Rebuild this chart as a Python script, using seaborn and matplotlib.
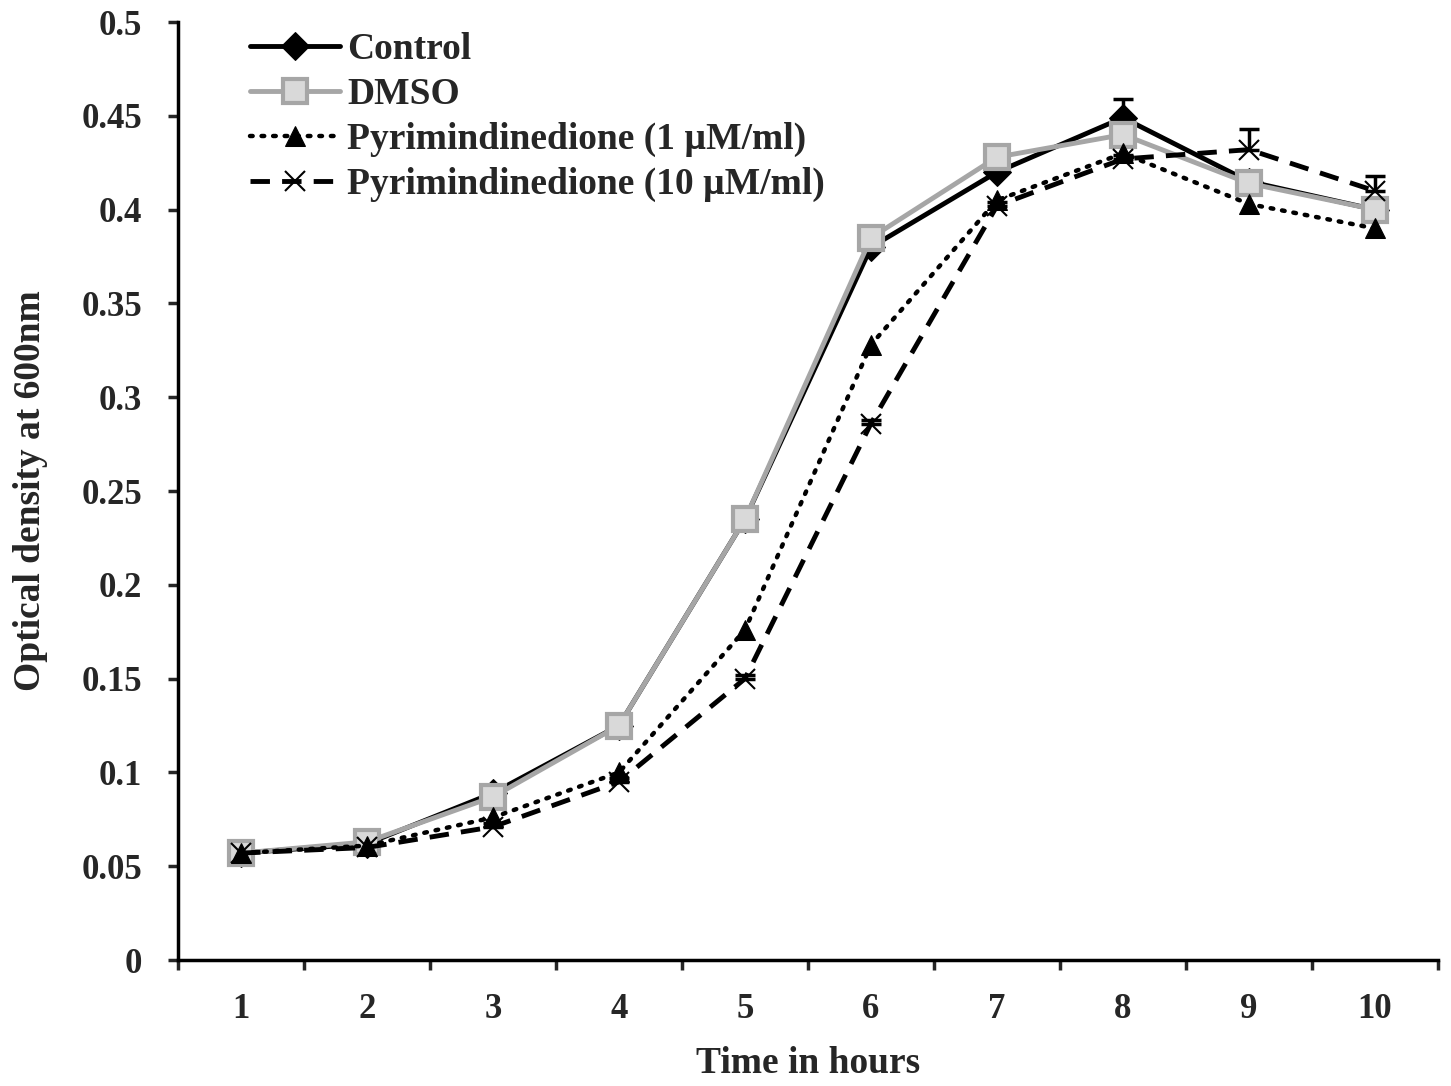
import matplotlib
matplotlib.use("Agg")
import matplotlib.pyplot as plt
import seaborn as sns
import pandas as pd
import numpy as np

# growth curve values
hours = [1, 2, 3, 4, 5, 6, 7, 8, 9, 10]
control = [0.057, 0.062, 0.089, 0.125, 0.235, 0.380, 0.420, 0.449, 0.415, 0.400]
dmso = [0.057, 0.063, 0.087, 0.125, 0.235, 0.385, 0.428, 0.440, 0.414, 0.400]
pyr_1 = [0.057, 0.061, 0.076, 0.100, 0.176, 0.328, 0.405, 0.430, 0.403, 0.390]
pyr_10 = [0.057, 0.060, 0.071, 0.095, 0.150, 0.286, 0.402, 0.427, 0.432, 0.410]
control_err = [0.002, 0.002, 0.002, 0.002, 0.002, 0.002, 0.003, 0.010, 0.002, 0.002]
pyr_10_err = [0.002, 0.002, 0.002, 0.002, 0.002, 0.002, 0.002, 0.002, 0.011, 0.008]

labels = ['Control', 'DMSO', 'Pyrimindinedione (1 µM/ml)', 'Pyrimindinedione (10 µM/ml)']
ytick_vals = [0, 0.05, 0.1, 0.15, 0.2, 0.25, 0.3, 0.35, 0.4, 0.45, 0.5]
ytick_labels = ['0', '0.05', '0.1', '0.15', '0.2', '0.25', '0.3', '0.35', '0.4', '0.45', '0.5']

sns.set_style('white')
plt.rcParams['font.family'] = ['Liberation Serif', 'DejaVu Serif']
plt.rcParams['font.weight'] = 'bold'

fig = plt.figure(figsize=(14.51, 10.86), dpi=100)
ax = fig.add_axes([0.1227, 0.116, 0.8683, 0.8637])

df = pd.DataFrame({'hours': hours, 'control': control, 'dmso': dmso,
                   'pyr_1': pyr_1, 'pyr_10': pyr_10})

# error bars (upper only, as in the source)
ax.errorbar(hours, control, yerr=[np.zeros(len(hours)), control_err], fmt='none',
            ecolor='black', elinewidth=2.5, capsize=7, capthick=2.5, zorder=2)
ax.errorbar(hours, pyr_10, yerr=[np.zeros(len(hours)), pyr_10_err], fmt='none',
            ecolor='black', elinewidth=2.5, capsize=7, capthick=2.5, zorder=2)

sns.lineplot(data=df, x='hours', y='control', ax=ax, color='black', linewidth=3.5,
             marker='D', markersize=14, markerfacecolor='black', markeredgecolor='black',
             label=labels[0], zorder=3)
sns.lineplot(data=df, x='hours', y='dmso', ax=ax, color='#a6a6a6', linewidth=3.5,
             marker='s', markersize=17, markerfacecolor='#d9d9d9', markeredgecolor='#a6a6a6',
             markeredgewidth=3, label=labels[1], zorder=4)
sns.lineplot(data=df, x='hours', y='pyr_1', ax=ax, color='black', linewidth=3.2,
             linestyle=(0, (0.6, 2.0)), dash_capstyle='round', marker='^', markersize=14,
             markerfacecolor='black', markeredgecolor='black', label=labels[2], zorder=5)
sns.lineplot(data=df, x='hours', y='pyr_10', ax=ax, color='black', linewidth=3.5,
             linestyle=(0, (4, 2.5)), marker='x', markersize=14, markeredgewidth=1.5,
             markeredgecolor='black', label=labels[3], zorder=6)

ax.set_xlim(0.5, 10.5)
ax.set_ylim(0, 0.5)
ax.set_xticks(hours)
ax.set_xticklabels([str(h) for h in hours])
ax.set_xticks(np.arange(0.5, 11, 1), minor=True)
ax.set_yticks(ytick_vals)
ax.set_yticklabels(ytick_labels)

ax.tick_params(axis='x', which='major', bottom=True, length=0, pad=24, labelsize=25)
ax.tick_params(axis='x', which='minor', bottom=True, length=7, width=2.5, direction='out')
ax.tick_params(axis='y', which='major', left=True, length=7, width=2.5, direction='out',
               pad=19, labelsize=25)
for t in ax.get_xticklabels() + ax.get_yticklabels():
    t.set_fontweight('bold')

sns.despine(ax=ax)
for side in ['left', 'bottom']:
    ax.spines[side].set_linewidth(2.5)
    ax.spines[side].set_color('black')

ax.set_xlabel('Time in hours', fontsize=27, fontweight='bold', labelpad=14)
ax.set_ylabel('Optical density at 600nm', fontsize=27, fontweight='bold', labelpad=24)

leg = ax.legend(loc='upper left', bbox_to_anchor=(0.045, 1.005), frameon=False,
                prop={'family': ['Liberation Serif', 'DejaVu Serif'], 'weight': 'bold', 'size': 27},
                handlelength=2.4, handletextpad=0.2, labelspacing=0.26, borderaxespad=0)

fig.savefig('out.png', dpi=100)
